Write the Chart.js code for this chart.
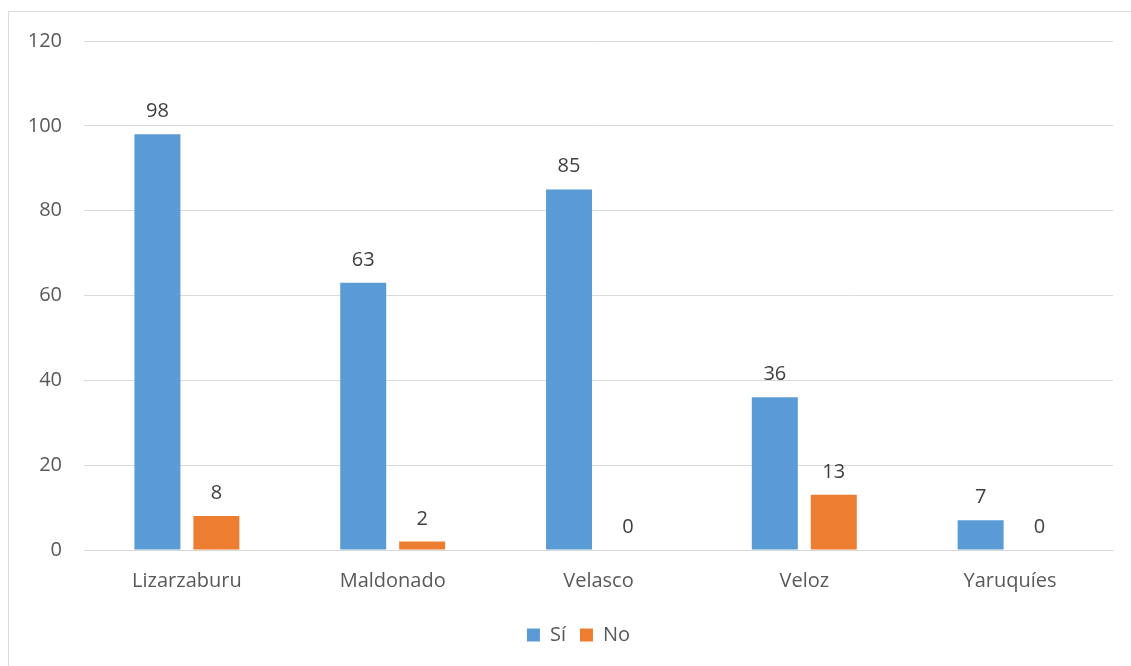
<!DOCTYPE html>
<html>
<head>
<meta charset="utf-8">
<script src="https://cdn.jsdelivr.net/npm/chart.js@4"></script>
<style>
html,body{margin:0;padding:0;background:#fff;}
#wrap{position:relative;width:1131px;height:666px;overflow:hidden;}
#frame{position:absolute;left:8px;top:11px;width:1140px;height:680px;border:1px solid #d9d9d9;box-sizing:border-box;pointer-events:none;}
canvas{position:absolute;left:0;top:0;}
</style>
</head>
<body>
<div id="wrap">
<canvas id="c" width="1131" height="666"></canvas>
<div id="frame"></div>
</div>
<script>
const categories = ["Lizarzaburu", "Maldonado", "Velasco", "Veloz", "Yaruquíes"];
const siValues = [98, 63, 85, 36, 7];
const noValues = [8, 2, 0, 13, 0];
const seriesNames = ["Sí", "No"];

const FONT = "'Open Sans', sans-serif";
const TEXT = "#595959";
const FS = 20;

const labelPlugin = {
  id: 'valueLabels',
  afterLayout(chart) {
    if (chart.legend) { chart.legend.left += 22; chart.legend.right += 22; }
  },
  afterDatasetsDraw(chart) {
    const ctx = chart.ctx;
    ctx.save();
    ctx.font = FS + "px " + FONT;
    ctx.fillStyle = "#404040";
    ctx.textAlign = "center";
    ctx.textBaseline = "alphabetic";
    chart.data.datasets.forEach((ds, i) => {
      const meta = chart.getDatasetMeta(i);
      meta.data.forEach((bar, j) => {
        ctx.fillText(String(ds.data[j]), bar.x, bar.y - 17);
      });
    });
    ctx.restore();
  }
};

new Chart(document.getElementById('c'), {
  type: 'bar',
  data: {
    labels: categories,
    datasets: [
      { label: seriesNames[0], data: siValues, backgroundColor: '#5B9BD5', categoryPercentage: 0.573, barPercentage: 0.78 },
      { label: seriesNames[1], data: noValues, backgroundColor: '#ED7D31', categoryPercentage: 0.573, barPercentage: 0.78 }
    ]
  },
  options: {
    responsive: false,
    animation: false,
    devicePixelRatio: 1,
    layout: { padding: { left: 0, right: 18, top: 41, bottom: 11 } },
    plugins: {
      tooltip: { enabled: false },
      legend: {
        position: 'bottom',
        labels: { boxWidth: 13, boxHeight: 13, padding: 14, color: TEXT, font: { family: FONT, size: FS } }
      }
    },
    scales: {
      x: {
        grid: { display: false, drawTicks: false },
        border: { color: '#d9d9d9' },
        ticks: { color: TEXT, font: { family: FONT, size: FS }, padding: 19 },
        afterFit(s) { s.height = 61; }
      },
      y: {
        min: 0, max: 120,
        ticks: { stepSize: 20, color: TEXT, font: { family: FONT, size: FS }, padding: 22 },
        grid: { color: '#d9d9d9', drawTicks: false },
        border: { display: false },
        afterFit(s) { s.width = 84; }
      }
    }
  },
  plugins: [labelPlugin]
});
</script>
</body>
</html>
